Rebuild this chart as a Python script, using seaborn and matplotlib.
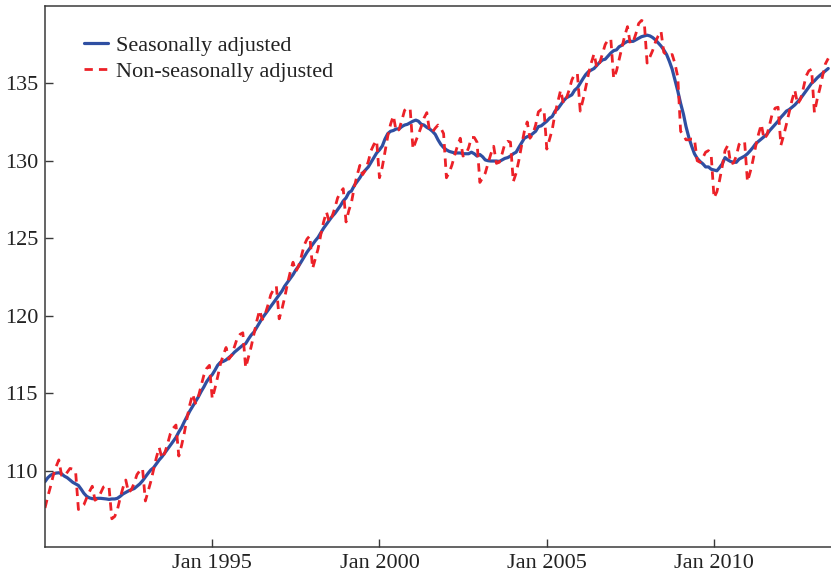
import numpy as np
import pandas as pd
import matplotlib
matplotlib.use("Agg")
import matplotlib.pyplot as plt
import matplotlib.dates as mdates
import seaborn as sns

# Monthly employment (millions), Jan 1990 - Jun 2013
seasonally_adjusted = [
    109.30, 109.55, 109.70, 109.80, 109.85, 109.87, 109.80, 109.65, 109.55, 109.40, 109.25, 109.15,  # 1990
    109.05, 108.80, 108.55, 108.35, 108.25, 108.20, 108.20, 108.22, 108.22, 108.20, 108.18, 108.15,  # 1991
    108.18, 108.18, 108.22, 108.35, 108.50, 108.60, 108.70, 108.78, 108.85, 109.00, 109.15, 109.35,  # 1992
    109.60, 109.85, 110.05, 110.20, 110.45, 110.70, 110.90, 111.15, 111.40, 111.65, 111.90, 112.15,  # 1993
    112.50, 112.80, 113.15, 113.50, 113.85, 114.15, 114.45, 114.75, 115.10, 115.40, 115.75, 116.00,  # 1994
    116.20, 116.50, 116.80, 117.00, 117.05, 117.15, 117.30, 117.45, 117.65, 117.80, 117.95, 118.10,  # 1995
    118.20, 118.50, 118.75, 118.95, 119.25, 119.55, 119.85, 120.10, 120.35, 120.60, 120.85, 121.10,  # 1996
    121.35, 121.60, 121.90, 122.15, 122.40, 122.65, 122.95, 123.20, 123.50, 123.80, 124.10, 124.35,  # 1997
    124.60, 124.85, 125.05, 125.35, 125.65, 125.90, 126.15, 126.40, 126.60, 126.85, 127.10, 127.40,  # 1998
    127.60, 127.95, 128.05, 128.40, 128.65, 128.90, 129.20, 129.40, 129.60, 129.90, 130.20, 130.50,  # 1999
    130.70, 130.95, 131.40, 131.75, 131.90, 131.95, 132.05, 132.05, 132.20, 132.30, 132.35, 132.45,  # 2000
    132.55, 132.62, 132.55, 132.35, 132.30, 132.15, 132.05, 131.90, 131.70, 131.35, 131.05, 130.85,  # 2001
    130.70, 130.60, 130.55, 130.50, 130.50, 130.50, 130.45, 130.45, 130.45, 130.55, 130.45, 130.30,  # 2002
    130.40, 130.25, 130.05, 130.00, 129.98, 129.98, 129.98, 129.95, 130.05, 130.15, 130.20, 130.30,  # 2003
    130.45, 130.55, 130.85, 131.15, 131.45, 131.55, 131.60, 131.75, 131.90, 132.20, 132.25, 132.40,  # 2004
    132.55, 132.75, 132.85, 133.20, 133.35, 133.60, 133.85, 134.05, 134.15, 134.25, 134.55, 134.70,  # 2005
    135.00, 135.30, 135.55, 135.75, 135.85, 135.95, 136.15, 136.35, 136.50, 136.55, 136.75, 136.95,  # 2006
    137.10, 137.15, 137.35, 137.45, 137.60, 137.70, 137.70, 137.70, 137.80, 137.90, 138.00, 138.05,  # 2007
    138.10, 138.05, 137.95, 137.80, 137.60, 137.40, 137.15, 136.85, 136.40, 135.90, 135.20, 134.50,  # 2008
    133.70, 133.00, 132.20, 131.50, 130.95, 130.45, 130.15, 129.95, 129.80, 129.60, 129.60, 129.45,  # 2009
    129.40, 129.35, 129.55, 129.80, 130.20, 130.05, 129.95, 129.90, 129.90, 130.10, 130.20, 130.30,  # 2010
    130.45, 130.65, 130.85, 131.10, 131.25, 131.40, 131.55, 131.70, 131.95, 132.15, 132.35, 132.55,  # 2011
    132.80, 133.00, 133.20, 133.30, 133.45, 133.60, 133.80, 134.00, 134.25, 134.50, 134.75, 135.00,  # 2012
    135.15, 135.35, 135.50, 135.65, 135.80, 135.95,                                                  # 2013
]

non_seasonally_adjusted = [
    107.60, 108.35, 108.95, 109.70, 110.25, 110.70, 109.70, 109.65, 109.90, 110.15, 110.10, 109.95,  # 1990
    107.50, 107.65, 107.80, 108.25, 108.65, 109.00, 108.10, 108.22, 108.57, 108.95, 109.03, 108.95,  # 1991
    106.90, 107.05, 107.47, 108.25, 108.90, 109.40, 108.60, 108.78, 109.20, 109.75, 110.00, 110.15,  # 1992
    108.05, 108.70, 109.30, 110.10, 110.85, 111.50, 110.80, 111.15, 111.75, 112.40, 112.75, 112.95,  # 1993
    110.95, 111.65, 112.40, 113.40, 114.25, 114.95, 114.35, 114.75, 115.45, 116.15, 116.60, 116.80,  # 1994
    114.65, 115.35, 116.05, 116.90, 117.45, 117.95, 117.20, 117.45, 118.00, 118.55, 118.80, 118.90,  # 1995
    116.65, 117.35, 118.00, 118.85, 119.65, 120.35, 119.75, 120.10, 120.70, 121.35, 121.70, 121.90,  # 1996
    119.80, 120.45, 121.15, 122.05, 122.80, 123.45, 122.85, 123.20, 123.85, 124.55, 124.95, 125.15,  # 1997
    123.05, 123.70, 124.30, 125.25, 126.05, 126.70, 126.05, 126.40, 126.95, 127.60, 127.95, 128.20,  # 1998
    126.05, 126.80, 127.30, 128.30, 129.05, 129.70, 129.10, 129.40, 129.95, 130.65, 131.05, 131.30,  # 1999
    128.90, 129.60, 130.55, 131.60, 132.35, 132.90, 131.90, 132.00, 132.60, 133.25, 133.40, 133.35,  # 2000
    130.75, 131.27, 131.70, 132.20, 132.75, 133.10, 131.90, 131.85, 132.10, 132.30, 132.10, 131.75,  # 2001
    128.90, 129.25, 129.70, 130.35, 130.95, 131.45, 130.30, 130.40, 130.85, 131.50, 131.50, 131.20,  # 2002
    128.60, 128.90, 129.20, 129.85, 130.43, 130.93, 129.83, 129.90, 130.45, 131.10, 131.25, 131.20,  # 2003
    128.65, 129.20, 130.00, 131.00, 131.90, 132.50, 131.45, 131.70, 132.30, 133.15, 133.30, 133.30,  # 2004
    130.75, 131.40, 132.00, 133.05, 133.80, 134.55, 133.70, 134.00, 134.55, 135.20, 135.60, 135.60,  # 2005
    133.20, 133.95, 134.70, 135.60, 136.30, 136.90, 136.00, 136.30, 136.90, 137.50, 137.80, 137.85,  # 2006
    135.30, 135.80, 136.50, 137.30, 138.05, 138.65, 137.55, 137.65, 138.20, 138.85, 139.05, 138.95,  # 2007
    136.30, 136.70, 137.10, 137.65, 138.05, 138.35, 137.00, 136.80, 136.80, 136.85, 136.25, 135.40,  # 2008
    131.90, 131.65, 131.35, 131.35, 131.40, 131.40, 130.00, 129.90, 130.20, 130.55, 130.65, 130.35,  # 2009
    127.60, 128.00, 128.70, 129.65, 130.65, 131.00, 129.80, 129.85, 130.30, 131.05, 131.25, 131.20,  # 2010
    128.65, 129.30, 130.00, 130.95, 131.70, 132.35, 131.40, 131.65, 132.35, 133.10, 133.40, 133.45,  # 2011
    131.00, 131.65, 132.35, 133.15, 133.90, 134.55, 133.65, 133.95, 134.65, 135.45, 135.80, 135.90,  # 2012
    133.10, 134.00, 134.65, 135.50, 136.25, 136.60,                                                  # 2013
]

series_labels = ["Seasonally adjusted", "Non-seasonally adjusted"]
tick_labels = ["Jan 1995", "Jan 2000", "Jan 2005", "Jan 2010"]
tick_dates = ["1995-01-01", "2000-01-01", "2005-01-01", "2010-01-01"]
y_ticks = [110, 115, 120, 125, 130, 135]

dates = pd.date_range("1990-01-01", periods=len(seasonally_adjusted), freq="MS")
df = pd.DataFrame({
    "date": dates,
    "sa": seasonally_adjusted,
    "nsa": non_seasonally_adjusted,
})

sns.set_theme(style="white")
plt.rcParams["font.family"] = ["Liberation Serif", "DejaVu Serif"]

fig = plt.figure(figsize=(8.31, 5.77), dpi=100)
ax = fig.add_axes([45 / 831, 30.3 / 577, 786 / 831, 541 / 577])

blue = "#2f4fa2"
red = "#ec2128"

sns.lineplot(data=df, x="date", y="sa", ax=ax, color=blue, linewidth=2.3,
             label=series_labels[0])
sns.lineplot(data=df, x="date", y="nsa", ax=ax, color=red, linewidth=2.0,
             linestyle="--", label=series_labels[1])
ax.lines[1].set_dashes((3.0, 2.2))

ax.set_xlim(pd.Timestamp("1990-01-01"), pd.Timestamp("2013-07-01"))
ax.set_ylim(105.1, 140.0)
ax.set_xticks([pd.Timestamp(d) for d in tick_dates])
ax.set_xticklabels(tick_labels)
ax.set_yticks(y_ticks)
ax.set_yticklabels([str(v) for v in y_ticks])
ax.set_xlabel("")
ax.set_ylabel("")

for side in ["left", "bottom", "top"]:
    ax.spines[side].set_visible(True)
    ax.spines[side].set_color("#3a3a3a")
    ax.spines[side].set_linewidth(1.1)
ax.spines["right"].set_visible(False)

ax.tick_params(axis="both", which="major", direction="in", length=6, width=1.0,
               color="#3a3a3a", labelsize=16, labelcolor="#222222",
               bottom=True, left=True, top=False, right=False)
ax.tick_params(axis="x", pad=5)
ax.tick_params(axis="y", pad=5)

leg = ax.legend(loc="upper left", bbox_to_anchor=(0.038, 0.962), frameon=False,
                fontsize=16, handlelength=1.1, handletextpad=0.35,
                labelspacing=0.25, borderaxespad=0.0)
for t in leg.get_texts():
    t.set_color("#222222")
leg.get_lines()[1].set_dashes((3.0, 2.2))

fig.savefig("out.png", dpi=100)
